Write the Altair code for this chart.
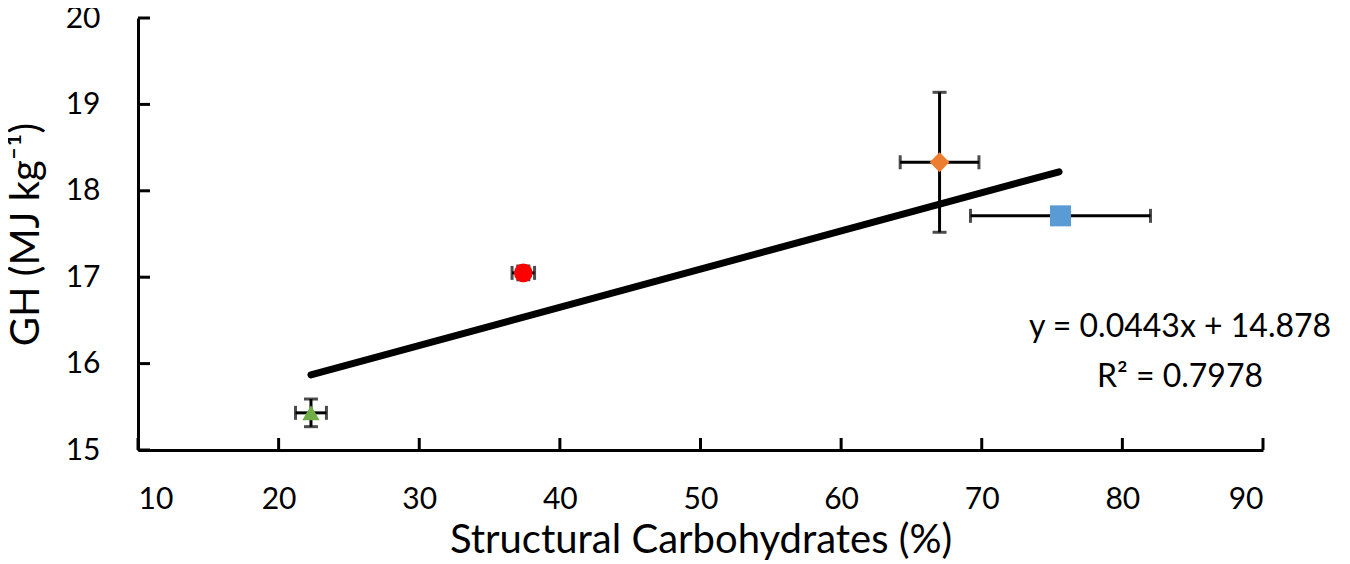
import altair as alt
import pandas as pd

# ---- data ----
names = ["A", "B", "C", "D"]
sc = [22.3, 37.4, 67.0, 75.6]          # Structural Carbohydrates (%)
gh = [15.43, 17.05, 18.33, 17.71]      # GH (MJ kg-1)
sc_err = [1.1, 0.8, 2.8, 6.4]
gh_err = [0.16, 0.08, 0.81, 0.03]

shapes = ["triangle-up", "circle", "diamond", "square"]
colors = ["#70AD47", "#FF0000", "#ED7D31", "#5B9BD5"]
sizes = [300, 441, 340, 484]

trend_x = [22.3, 75.5]
trend_y = [15.87, 18.22]

eq_lines = ["y = 0.0443x + 14.878", "R² = 0.7978"]
eq_x = [84.1, 84.1]
eq_y = [16.42, 15.84]

x_ticks = [10, 20, 30, 40, 50, 60, 70, 80, 90]
y_ticks = [15, 16, 17, 18, 19, 20]

W, H = 1125, 432
FONT = "Lato"

df = pd.DataFrame({"name": names, "sc": sc, "gh": gh, "sc_err": sc_err, "gh_err": gh_err})
df["x_lo"] = df.sc - df.sc_err
df["x_hi"] = df.sc + df.sc_err
df["y_lo"] = df.gh - df.gh_err
df["y_hi"] = df.gh + df.gh_err

xs = alt.Scale(domain=[10, 90], nice=False, zero=False)
ys = alt.Scale(domain=[15, 20], nice=False, zero=False)

X = alt.X("sc:Q", scale=xs, axis=alt.Axis(
    values=x_ticks, format="d", title="Structural Carbohydrates (%)", ticks=False,
    labelPadding=34, grid=False))
Y = alt.Y("gh:Q", scale=ys, axis=alt.Axis(
    values=y_ticks, format="d", title="GH (MJ kg⁻¹)", ticks=False,
    labelPadding=38, grid=False))

base = alt.Chart(df)

hbar = base.mark_rule(color="black", strokeWidth=3).encode(
    x=alt.X("x_lo:Q", scale=xs), x2="x_hi:Q", y=alt.Y("gh:Q", scale=ys))
vbar = base.mark_rule(color="black", strokeWidth=3).encode(
    x=alt.X("sc:Q", scale=xs), y=alt.Y("y_lo:Q", scale=ys), y2="y_hi:Q")

cap_l = base.mark_tick(color="black", thickness=3, size=14, orient="vertical").encode(
    x=alt.X("x_lo:Q", scale=xs), y=alt.Y("gh:Q", scale=ys))
cap_r = base.mark_tick(color="black", thickness=3, size=14, orient="vertical").encode(
    x=alt.X("x_hi:Q", scale=xs), y=alt.Y("gh:Q", scale=ys))
cap_b = base.mark_tick(color="black", thickness=3, size=14, orient="horizontal").encode(
    x=alt.X("sc:Q", scale=xs), y=alt.Y("y_lo:Q", scale=ys))
cap_t = base.mark_tick(color="black", thickness=3, size=14, orient="horizontal").encode(
    x=alt.X("sc:Q", scale=xs), y=alt.Y("y_hi:Q", scale=ys))

trend = alt.Chart(pd.DataFrame({"x": trend_x, "y": trend_y})).mark_line(
    color="black", strokeWidth=7, strokeCap="round").encode(
    x=alt.X("x:Q", scale=xs), y=alt.Y("y:Q", scale=ys))

points = base.mark_point(filled=True, opacity=1).encode(
    x=X, y=Y,
    shape=alt.Shape("name:N", scale=alt.Scale(domain=names, range=shapes), legend=None),
    color=alt.Color("name:N", scale=alt.Scale(domain=names, range=colors), legend=None),
    size=alt.Size("name:N", scale=alt.Scale(domain=names, range=sizes), legend=None),
)

eq = alt.Chart(pd.DataFrame({"t": eq_lines, "x": eq_x, "y": eq_y})).mark_text(
    font=FONT, fontSize=32, color="black", align="center", baseline="middle").encode(
    x=alt.X("x:Q", scale=xs), y=alt.Y("y:Q", scale=ys), text="t:N")

xt = alt.Chart(pd.DataFrame({"v": x_ticks})).mark_rule(color="black", strokeWidth=3).encode(
    x=alt.X("v:Q", scale=xs), y=alt.value(H - 12), y2=alt.value(H))
yt = alt.Chart(pd.DataFrame({"v": y_ticks})).mark_rule(color="black", strokeWidth=3).encode(
    y=alt.Y("v:Q", scale=ys), x=alt.value(0), x2=alt.value(12))

chart = alt.layer(xt, yt, trend, hbar, vbar, cap_l, cap_r, cap_b, cap_t, points, eq).properties(
    width=W, height=H,
    autosize=alt.AutoSizeParams(type="none"),
    padding={"left": 130, "top": 10, "right": 79, "bottom": 113},
).configure_view(stroke=None).configure_axis(
    domainColor="black", domainWidth=3,
    labelFont=FONT, labelFontSize=30, labelColor="black",
    titleFont=FONT, titleFontSize=40, titleColor="black", titleFontWeight="normal",
).configure_axisX(titleBaseline="alphabetic", titleY=102).configure_axisY(titleX=-92, titleY=216)

chart.save("out.html", embed_options={"renderer": "svg", "actions": False})
